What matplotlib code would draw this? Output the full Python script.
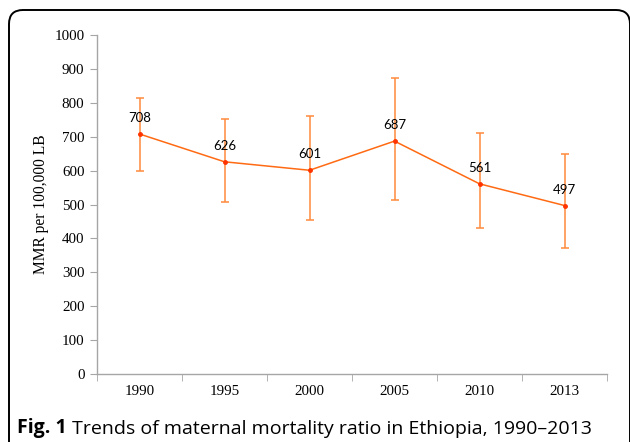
import matplotlib
matplotlib.use("Agg")
import matplotlib.pyplot as plt
from matplotlib.patches import FancyBboxPatch
import numpy as np

# values
years = ["1990", "1995", "2000", "2005", "2010", "2013"]
mmr = [708, 626, 601, 687, 561, 497]
upper = [815, 752, 762, 873, 712, 650]
lower = [600, 508, 453, 514, 430, 371]
y_ticks = [0, 100, 200, 300, 400, 500, 600, 700, 800, 900, 1000]


def main():
    fig = plt.figure(figsize=(6.3, 4.42), dpi=100)
    ax = fig.add_axes([97 / 630, 68 / 442, 510 / 630, 339 / 442])

    x = np.arange(len(years))
    vals = np.array(mmr)
    err = [vals - np.array(lower), np.array(upper) - vals]

    ax.errorbar(x, vals, yerr=err, fmt="none", ecolor="#FF8A3D",
                elinewidth=1.1, capsize=3, capthick=1.1, zorder=2)
    ax.plot(x, vals, color="#FF6A13", lw=1.1, zorder=3)
    ax.plot(x, vals, "o", color="#FF3300", ms=2.5, zorder=4)

    for xi, v in zip(x, mmr):
        ax.annotate(str(v), (xi, v), xytext=(0, 8.5),
                    textcoords="offset points", ha="center", va="baseline",
                    fontsize=9.5, family="Lato", color="black")

    ax.set_xlim(-0.5, len(years) - 0.5)
    ax.set_ylim(0, 1000)
    ax.set_yticks(y_ticks)
    ax.set_yticklabels([str(t) for t in y_ticks], family="Liberation Serif",
                       fontsize=10.8)
    ax.set_xticks(x)
    ax.set_xticklabels(years, family="Liberation Serif", fontsize=10.8)
    ax.set_xticks(np.arange(len(years) + 1) - 0.5, minor=True)
    ax.tick_params(axis="x", which="major", length=0, pad=8)
    ax.tick_params(axis="x", which="minor", length=5, color="#A6A6A6")
    ax.tick_params(axis="y", length=5, color="#A6A6A6", pad=4)

    for s in ["top", "right"]:
        ax.spines[s].set_visible(False)
    for s in ["left", "bottom"]:
        ax.spines[s].set_color("#A6A6A6")
        ax.spines[s].set_linewidth(1.0)

    ax.set_ylabel("MMR per 100,000 LB", family="Liberation Serif",
                  fontsize=11.2, labelpad=4)

    # rounded frame around the figure (open on the right and bottom)
    frame = FancyBboxPatch((0.09, -0.5), 6.21, 4.82,
                           boxstyle="round,pad=0,rounding_size=0.14",
                           transform=fig.dpi_scale_trans, fill=False,
                           edgecolor="black", lw=1.4)
    fig.patches.append(frame)

    t1 = fig.text(17 / 630, 1 - 438 / 442, "Fig. 1", family="Open Sans",
                  weight="bold", fontsize=14, va="bottom", ha="left")
    ax.annotate(" Trends of maternal mortality ratio in Ethiopia, 1990\u20132013",
                xy=(1, 0), xycoords=t1, va="bottom", ha="left",
                family="Open Sans", fontsize=14, annotation_clip=False)

    fig.savefig("out.png", dpi=100)


if __name__ == "__main__":
    main()
